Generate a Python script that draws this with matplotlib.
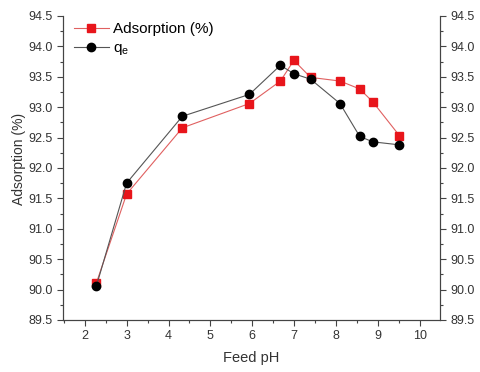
import matplotlib.pyplot as plt
from matplotlib.ticker import MultipleLocator

plt.rcParams['font.family'] = ['Liberation Sans', 'DejaVu Sans']

# 数据
ph = [2.28, 3.0, 4.33, 5.93, 6.67, 6.99, 7.39, 8.09, 8.56, 8.87, 9.51]
adsorption = [90.11, 91.57, 92.66, 93.06, 93.43, 93.77, 93.49, 93.43, 93.30, 93.09, 92.53]
qe = [90.06, 91.75, 92.85, 93.21, 93.69, 93.55, 93.46, 93.06, 92.52, 92.43, 92.38]

fig = plt.figure(figsize=(4.8, 3.72), dpi=100)
ax = fig.add_axes([0.131, 0.140, 0.786, 0.817])

ax.plot(ph, adsorption, color='#e06060', lw=0.8, marker='s', ms=5.5,
        mfc='#e8151b', mec='#e8151b', label='Adsorption (%)')
ax.plot(ph, qe, color='#555555', lw=0.8, marker='o', ms=6,
        mfc='black', mec='black', label='q$_\\mathregular{e}$')

ax.set_xlim(1.48, 10.48)
ax.set_ylim(89.5, 94.5)
ax.xaxis.set_major_locator(MultipleLocator(1))
ax.xaxis.set_minor_locator(MultipleLocator(0.5))
ax.yaxis.set_major_locator(MultipleLocator(0.5))
ax.yaxis.set_minor_locator(MultipleLocator(0.25))

ax2 = ax.twinx()
ax2.set_ylim(ax.get_ylim())
ax2.yaxis.set_major_locator(MultipleLocator(0.5))
ax2.yaxis.set_minor_locator(MultipleLocator(0.25))

for a in (ax, ax2):
    a.spines['top'].set_visible(False)
    for s in a.spines.values():
        s.set_color('#444444')
        s.set_linewidth(0.8)
    a.tick_params(which='major', direction='out', length=4, width=0.8,
                  color='#444444', labelsize=9, labelcolor='#333333')
    a.tick_params(which='minor', direction='out', length=2.5, width=0.8,
                  color='#444444')
    a.yaxis.set_major_formatter(plt.FormatStrFormatter('%.1f'))

ax.set_xlabel('Feed pH', fontsize=10.5, color='#333333', labelpad=6)
ax.set_ylabel('Adsorption (%)', fontsize=10, color='#333333')
ax.yaxis.set_label_coords(-0.098, 0.53)

ax.legend(loc='upper left', frameon=False, fontsize=11, handlelength=2.3,
          handletextpad=0.3, borderaxespad=0.0, labelspacing=0.35,
          bbox_to_anchor=(0.012, 1.0))

fig.savefig('out.png', dpi=100)
